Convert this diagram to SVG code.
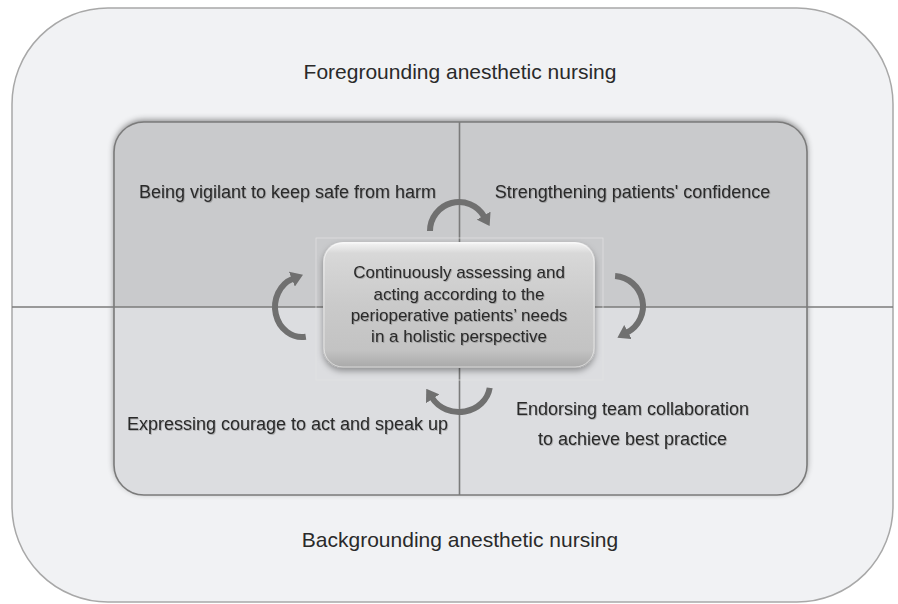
<svg xmlns="http://www.w3.org/2000/svg" width="898" height="604" viewBox="0 0 898 604">
  <defs>
    <style>
      .lbl { font-family: "Liberation Sans", Arial, sans-serif; fill: #2a2a2a; text-anchor: middle; }
      .big { font-size: 21px; }
      .quad { font-size: 18px; }
      .core { font-size: 17px; }
      .divider { stroke: #7b7b7b; stroke-width: 1.6; fill: none; }
      .cycle { fill: none; stroke: #707070; stroke-width: 6; stroke-linecap: butt; marker-end: url(#head); }
    </style>
    <filter id="panelShadow" x="-10%" y="-10%" width="120%" height="120%">
      <feDropShadow dx="0" dy="-2" stdDeviation="3" flood-color="#000" flood-opacity="0.45"/>
    </filter>
    <filter id="boxShadow" x="-10%" y="-10%" width="120%" height="130%">
      <feDropShadow dx="0" dy="3" stdDeviation="3" flood-color="#000" flood-opacity="0.35"/>
    </filter>
    <filter id="textShadow" x="-5%" y="-20%" width="110%" height="140%">
      <feDropShadow dx="0.8" dy="0.8" stdDeviation="0.6" flood-color="#000" flood-opacity="0.25"/>
    </filter>
    <linearGradient id="gloss" x1="0" y1="0" x2="0" y2="1">
      <stop offset="0" stop-color="#f6f6f6"/>
      <stop offset="0.09" stop-color="#d8d8d8"/>
      <stop offset="0.5" stop-color="#cacaca"/>
      <stop offset="0.86" stop-color="#c3c3c3"/>
      <stop offset="1" stop-color="#a8a8a8"/>
    </linearGradient>
    <marker id="head" markerUnits="userSpaceOnUse" markerWidth="12" markerHeight="16" viewBox="0 0 12 16" refX="1" refY="8" orient="auto">
      <path d="M0,0 L12,8 L0,16 Z" fill="#707070"/>
    </marker>
  </defs>

  <!-- outer frame: foreground / background -->
  <g id="frame">
    <rect x="12" y="8" width="881" height="594" rx="96" ry="96" fill="#f1f2f4" stroke="#a8a8a8" stroke-width="1.5"/>
    <text class="lbl big" x="460" y="79">Foregrounding anesthetic nursing</text>
    <text class="lbl big" x="460" y="547">Backgrounding anesthetic nursing</text>
  </g>

  <!-- four-part panel -->
  <rect x="114" y="122" width="693" height="373" rx="30" ry="30" fill="#c9cacc" filter="url(#panelShadow)"/>

  <g id="vigilant">
    <path d="M114,307 V152 A30,30 0 0 1 144,122 H459.5 V307 Z" fill="#c9cacc"/>
    <text class="lbl quad" x="287.5" y="198" filter="url(#textShadow)">Being vigilant to keep safe from harm</text>
  </g>
  <g id="confidence">
    <path d="M459.5,122 H777 A30,30 0 0 1 807,152 V307 H459.5 Z" fill="#c9cacc"/>
    <text class="lbl quad" x="632.5" y="198" filter="url(#textShadow)">Strengthening patients' confidence</text>
  </g>
  <g id="courage">
    <path d="M114,307 V465 A30,30 0 0 0 144,495 H459.5 V307 Z" fill="#dcdde0"/>
    <text class="lbl quad" x="287.5" y="430" filter="url(#textShadow)">Expressing courage to act and speak up</text>
  </g>
  <g id="collaboration">
    <path d="M459.5,307 H807 V465 A30,30 0 0 1 777,495 H459.5 Z" fill="#dcdde0"/>
    <text class="lbl quad" x="632.5" y="415" filter="url(#textShadow)">Endorsing team collaboration</text>
    <text class="lbl quad" x="632.5" y="445" filter="url(#textShadow)">to achieve best practice</text>
  </g>

  <!-- panel outline and dividers -->
  <g id="dividers">
    <rect x="114" y="122" width="693" height="373" rx="30" ry="30" fill="none" stroke="#7b7b7b" stroke-width="1.6"/>
    <line class="divider" x1="12" y1="307" x2="893" y2="307"/>
    <line class="divider" x1="459.5" y1="122" x2="459.5" y2="495"/>
  </g>

  <!-- cycle arrows around the core -->
  <g id="connectors">
    <path class="cycle" d="M430,231 A29,29 0 0 1 484.1,216.5"/>
    <path class="cycle" d="M615.1,276.1 A30,30 0 0 1 627.1,332.5"/>
    <path class="cycle" d="M489.7,387.9 A31,28 0 0 1 432.2,398"/>
    <path class="cycle" d="M305.8,336.7 A27,30 0 0 1 292.8,278.8"/>
  </g>

  <!-- central core -->
  <g id="core">
    <rect x="316" y="238" width="287" height="142" fill="none" stroke="#e2e2e2" stroke-width="0.7"/>
    <rect x="323" y="242" width="272" height="126" rx="20" ry="20" fill="url(#gloss)" filter="url(#boxShadow)"/>
    <rect x="324" y="243" width="270" height="124" rx="19" ry="19" fill="none" stroke="#ffffff" stroke-opacity="0.55" stroke-width="1"/>
    <text class="lbl core" x="459" y="278" filter="url(#textShadow)">Continuously assessing and</text>
    <text class="lbl core" x="459" y="300" filter="url(#textShadow)">acting according to the</text>
    <text class="lbl core" x="459" y="321" filter="url(#textShadow)">perioperative patients’ needs</text>
    <text class="lbl core" x="459" y="342" filter="url(#textShadow)">in a holistic perspective</text>
  </g>
</svg>
